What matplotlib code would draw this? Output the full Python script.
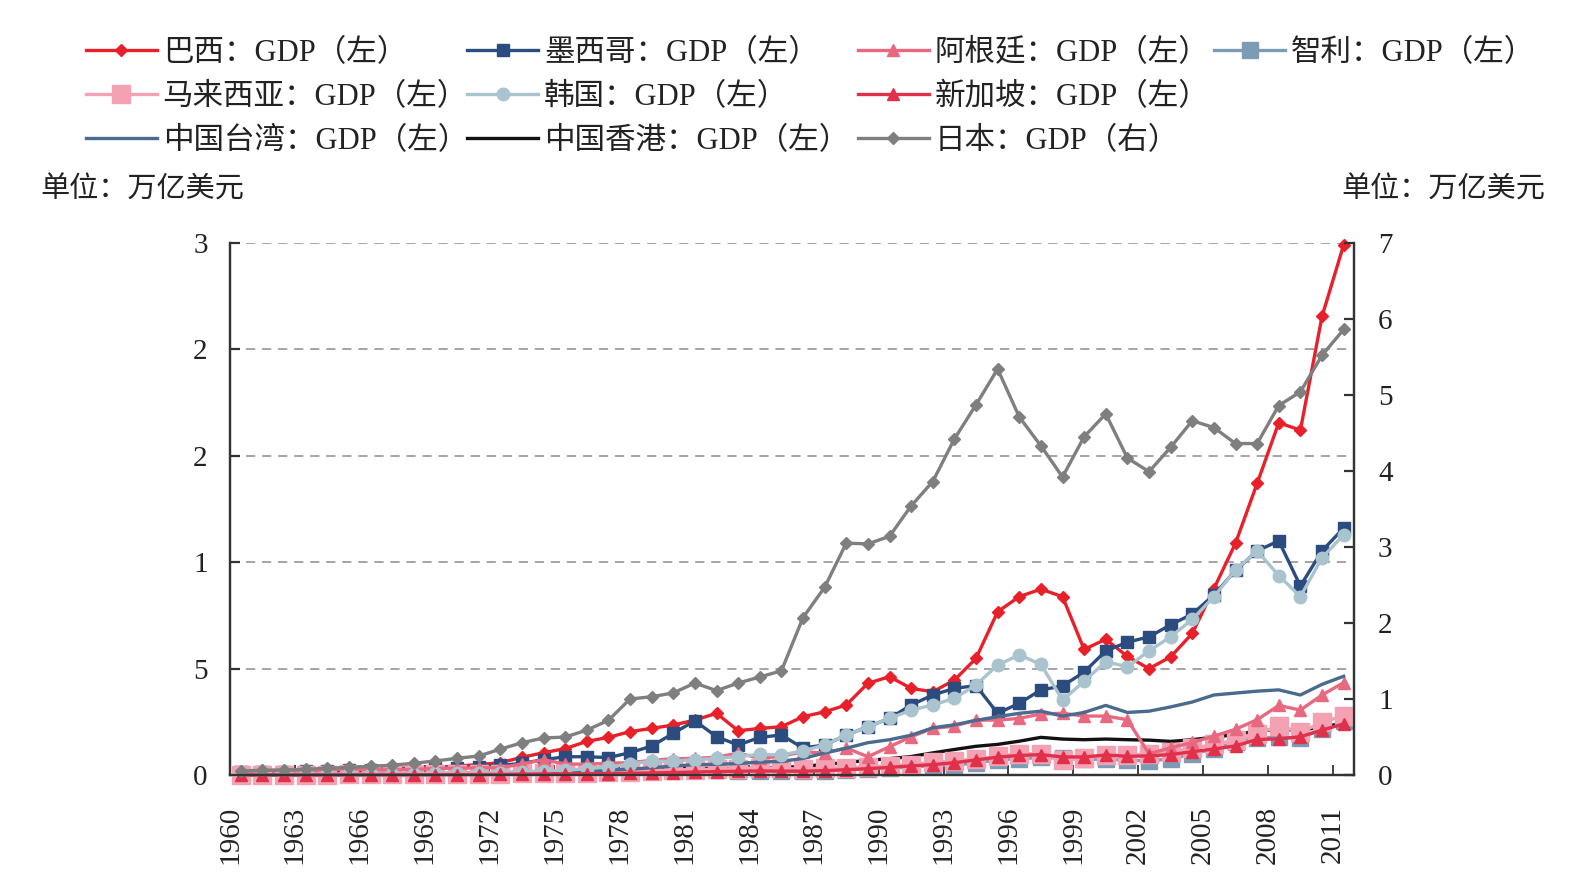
import numpy as np
import matplotlib
matplotlib.use('Agg')
import matplotlib.pyplot as plt

plt.rcParams['font.family'] = ['Liberation Serif', 'Noto Sans CJK SC']
plt.rcParams['axes.unicode_minus'] = False

years = np.arange(1960, 2012)

# GDP, trillion USD (left axis)
brazil = [0.015, 0.015, 0.019, 0.023, 0.021, 0.022, 0.027, 0.031, 0.034, 0.037,
          0.042, 0.049, 0.058, 0.083, 0.105, 0.124, 0.158, 0.177, 0.204, 0.219,
          0.235, 0.258, 0.29, 0.208, 0.219, 0.227, 0.274, 0.297, 0.329, 0.431,
          0.462, 0.407, 0.391, 0.446, 0.548, 0.767, 0.838, 0.873, 0.838, 0.59,
          0.638, 0.557, 0.50, 0.555, 0.665, 0.875, 1.089, 1.37, 1.655, 1.62,
          2.154, 2.49]
mexico = [0.013, 0.014, 0.015, 0.017, 0.02, 0.022, 0.024, 0.026, 0.029, 0.032,
          0.035, 0.039, 0.045, 0.055, 0.072, 0.086, 0.086, 0.082, 0.105, 0.136,
          0.196, 0.255, 0.18, 0.141, 0.177, 0.188, 0.127, 0.141, 0.188, 0.227,
          0.266, 0.329, 0.376, 0.407, 0.42, 0.29, 0.337, 0.40, 0.418, 0.484,
          0.583, 0.624, 0.649, 0.706, 0.756, 0.846, 0.961, 1.053, 1.10, 0.888,
          1.053, 1.16]
argentina = [0.02, 0.022, 0.024, 0.018, 0.026, 0.029, 0.025, 0.024, 0.026, 0.031,
             0.032, 0.034, 0.034, 0.052, 0.072, 0.052, 0.051, 0.056, 0.058, 0.069,
             0.077, 0.078, 0.084, 0.103, 0.079, 0.088, 0.11, 0.103, 0.127, 0.086,
             0.133, 0.18, 0.219, 0.23, 0.258, 0.258, 0.266, 0.287, 0.29, 0.277,
             0.277, 0.26, 0.10, 0.128, 0.153, 0.183, 0.215, 0.26, 0.327, 0.305,
             0.376, 0.434]
chile = [0.004, 0.0045, 0.005, 0.0055, 0.0057, 0.006, 0.0069, 0.0071, 0.0072, 0.0083,
         0.0091, 0.0107, 0.0113, 0.0161, 0.0163, 0.0074, 0.01, 0.013, 0.015, 0.02,
         0.029, 0.034, 0.025, 0.02, 0.019, 0.017, 0.018, 0.021, 0.025, 0.029,
         0.033, 0.037, 0.045, 0.048, 0.056, 0.072, 0.076, 0.083, 0.079, 0.073,
         0.075, 0.069, 0.068, 0.075, 0.099, 0.123, 0.154, 0.173, 0.179, 0.172,
         0.218, 0.252]
malaysia = [0.0019, 0.0019, 0.002, 0.0022, 0.0024, 0.0027, 0.0028, 0.0029, 0.003, 0.0033,
            0.0039, 0.0042, 0.0051, 0.0077, 0.0096, 0.0098, 0.0115, 0.0135, 0.0164, 0.021,
            0.0247, 0.0253, 0.0273, 0.0304, 0.0339, 0.0312, 0.0278, 0.0322, 0.035, 0.0387,
            0.0442, 0.0493, 0.0592, 0.0668, 0.0742, 0.0888, 0.10, 0.10, 0.072, 0.079,
            0.094, 0.093, 0.10, 0.11, 0.125, 0.144, 0.163, 0.194, 0.231, 0.202,
            0.247, 0.279]
korea = [0.004, 0.002, 0.003, 0.004, 0.003, 0.003, 0.004, 0.005, 0.006, 0.008,
         0.009, 0.01, 0.011, 0.014, 0.019, 0.022, 0.03, 0.038, 0.052, 0.065,
         0.065, 0.072, 0.078, 0.087, 0.097, 0.094, 0.114, 0.141, 0.188, 0.227,
         0.266, 0.305, 0.329, 0.36, 0.423, 0.517, 0.564, 0.52, 0.352, 0.44,
         0.533, 0.508, 0.583, 0.649, 0.731, 0.838, 0.963, 1.053, 0.937, 0.838,
         1.02, 1.128]
singapore = [0.0007, 0.0008, 0.0008, 0.0009, 0.0009, 0.001, 0.0011, 0.0013, 0.0014, 0.0017,
             0.0019, 0.0023, 0.0029, 0.0042, 0.0052, 0.0056, 0.0062, 0.0067, 0.0081, 0.0097,
             0.0116, 0.014, 0.0161, 0.0177, 0.0191, 0.0186, 0.0181, 0.0207, 0.0251, 0.0302,
             0.036, 0.043, 0.049, 0.058, 0.071, 0.084, 0.092, 0.096, 0.085, 0.085,
             0.094, 0.088, 0.09, 0.096, 0.11, 0.122, 0.137, 0.167, 0.17, 0.18,
             0.211, 0.24]
taiwan = [0.0017, 0.0018, 0.002, 0.0022, 0.0026, 0.0028, 0.0032, 0.0037, 0.0043, 0.0049,
          0.0057, 0.0066, 0.008, 0.011, 0.014, 0.016, 0.019, 0.023, 0.028, 0.034,
          0.042, 0.049, 0.05, 0.054, 0.061, 0.064, 0.078, 0.104, 0.126, 0.152,
          0.166, 0.187, 0.222, 0.236, 0.257, 0.274, 0.29, 0.30, 0.277, 0.294,
          0.327, 0.294, 0.30, 0.32, 0.343, 0.376, 0.385, 0.394, 0.40, 0.376,
          0.426, 0.464]
hongkong = [0.0013, 0.0014, 0.0016, 0.0019, 0.0021, 0.0024, 0.0026, 0.0027, 0.0027, 0.0032,
            0.0037, 0.0044, 0.0055, 0.0079, 0.0093, 0.01, 0.013, 0.016, 0.018, 0.022,
            0.029, 0.031, 0.032, 0.03, 0.033, 0.035, 0.041, 0.05, 0.059, 0.069,
            0.077, 0.087, 0.104, 0.12, 0.135, 0.144, 0.159, 0.177, 0.169, 0.166,
            0.169, 0.166, 0.164, 0.158, 0.166, 0.178, 0.19, 0.207, 0.215, 0.211,
            0.225, 0.243]
# right axis
japan = [0.05, 0.06, 0.065, 0.075, 0.09, 0.10, 0.115, 0.13, 0.155, 0.185,
         0.22, 0.25, 0.34, 0.425, 0.487, 0.50, 0.59, 0.72, 1.00, 1.03,
         1.08, 1.21, 1.11, 1.21, 1.29, 1.37, 2.07, 2.47, 3.05, 3.04,
         3.14, 3.54, 3.86, 4.42, 4.87, 5.34, 4.71, 4.33, 3.92, 4.45,
         4.75, 4.17, 3.99, 4.31, 4.66, 4.57, 4.36, 4.36, 4.86, 5.04,
         5.52, 5.86]

left_ticks = [0, 0.5, 1.0, 1.5, 2.0, 2.5]
left_labels = ['0', '5', '1', '2', '2', '3']
right_ticks = [0, 1, 2, 3, 4, 5, 6, 7]
xtick_pos = np.arange(1959.5, 2011, 3)
xtick_labels = [str(y) for y in range(1960, 2012, 3)]

fig = plt.figure(figsize=(15.86, 8.96), dpi=100)
ax = fig.add_axes([0.145, 0.135, 0.709, 0.594])
ax2 = ax.twinx()

lw = 2.4
l_br, = ax.plot(years, brazil, color='#E8202A', lw=lw, marker='D', ms=6, zorder=2,
                clip_on=False, label='巴西：GDP（左）')
l_mx, = ax.plot(years, mexico, color='#2B4C7E', lw=lw, marker='s', ms=9, zorder=3,
                clip_on=False, label='墨西哥：GDP（左）')
l_chile, = ax.plot(years, chile, color='#7C9CB6', lw=lw, marker='s', ms=12, zorder=4,
                   clip_on=False, label='智利：GDP（左）')
l_hk, = ax.plot(years, hongkong, color='#111111', lw=lw, zorder=5,
                clip_on=False, label='中国香港：GDP（左）')
l_malay, = ax.plot(years, malaysia, color='#F4A2B3', lw=lw, marker='s', ms=13, zorder=6,
                   clip_on=False, label='马来西亚：GDP（左）')
l_arg, = ax.plot(years, argentina, color='#E8697F', lw=lw, marker='^', ms=8, zorder=7,
                 clip_on=False, label='阿根廷：GDP（左）')
l_tw, = ax.plot(years, taiwan, color='#4A6A8E', lw=lw, zorder=8,
                clip_on=False, label='中国台湾：GDP（左）')
l_kr, = ax.plot(years, korea, color='#A9C3CF', lw=lw, marker='o', ms=9, zorder=9,
                clip_on=False, label='韩国：GDP（左）')
l_sing, = ax.plot(years, singapore, color='#E1304A', lw=lw, marker='^', ms=9, zorder=10,
                  clip_on=False, label='新加坡：GDP（左）')
l_jp, = ax2.plot(years, japan, color='#7F7F7F', lw=lw, marker='D', ms=6.5,
                 clip_on=False, label='日本：GDP（右）')

ax.set_xlim(1959.5, 2011.5)
ax.set_ylim(0, 2.5)
ax2.set_ylim(0, 7)

ax.set_yticks(left_ticks)
ax.set_yticklabels(left_labels)
ax2.set_yticks(right_ticks)
ax.set_xticks(xtick_pos)
ax.set_xticklabels(xtick_labels, rotation=90)

for a in (ax, ax2):
    a.spines['top'].set_visible(False)
    for side in ('left', 'right', 'bottom'):
        a.spines[side].set_color('#333333')
        a.spines[side].set_linewidth(1.6)

ax.tick_params(axis='y', direction='in', length=7, width=1.6, color='#333333',
               labelsize=21, pad=16, labelcolor='#222222')
ax.tick_params(axis='x', direction='in', length=7, width=1.3, color='#333333',
               labelsize=21, pad=22, labelcolor='#222222')
ax2.tick_params(axis='y', direction='in', length=7, width=1.6, color='#333333',
                labelsize=21, pad=17, labelcolor='#222222')

ax.yaxis.grid(True, linestyle=(0, (6, 4.5)), color='#8C8C8C', linewidth=1.1)
ax.set_axisbelow(True)

# legend, laid out as four columns
cols = [
    ([l_br, l_malay, l_tw], 0.054),
    ([l_mx, l_kr, l_hk], 0.2945),
    ([l_arg, l_sing, l_jp], 0.541),
    ([l_chile], 0.7655),
]
for handles, x in cols:
    fig.legend(handles, [h.get_label() for h in handles], loc='upper left',
               bbox_to_anchor=(x, 0.957), frameon=False, fontsize=22,
               handlelength=2.32, handletextpad=0.2, labelspacing=0.49,
               borderpad=0, borderaxespad=0, labelcolor='#222222')

fig.text(0.0255, 0.788, '单位：万亿美元', fontsize=21, color='#222222', va='center')
fig.text(0.974, 0.788, '单位：万亿美元', fontsize=21, color='#222222', va='center',
         ha='right')

fig.savefig('out.png', dpi=100)
